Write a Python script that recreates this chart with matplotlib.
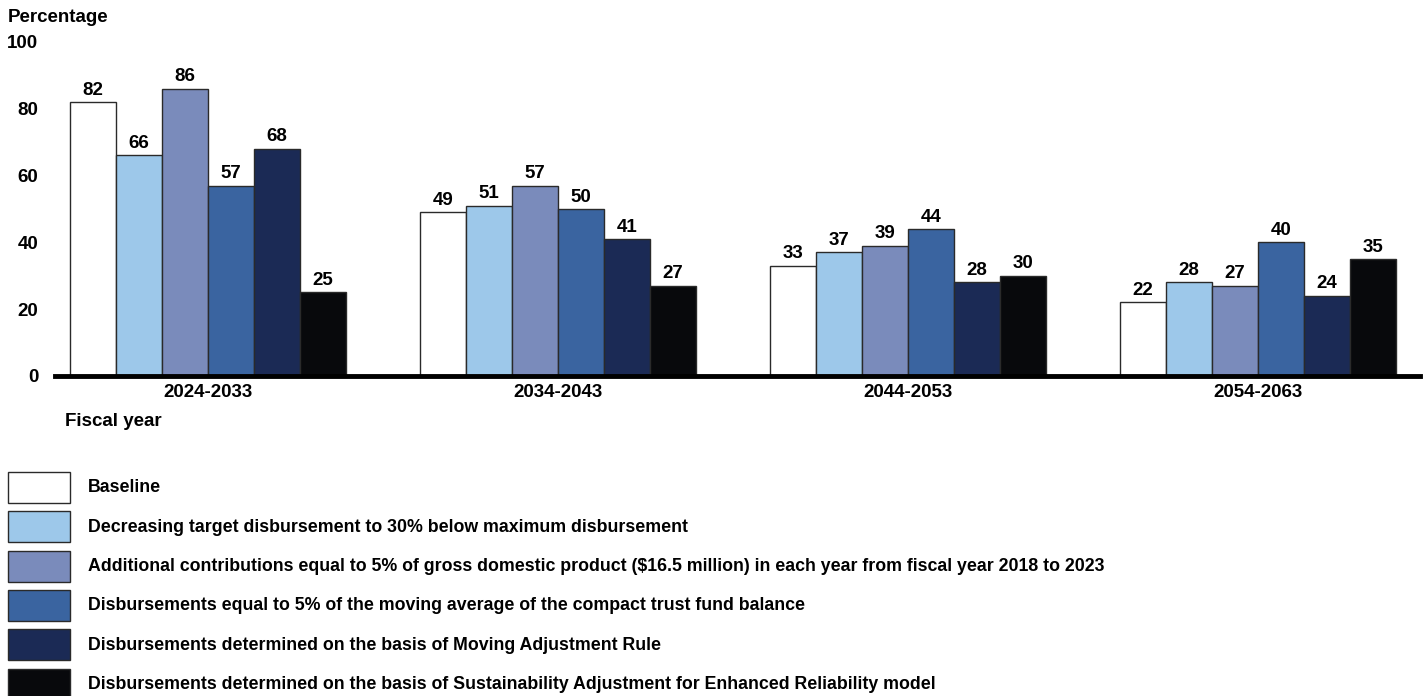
import matplotlib

matplotlib.use("Agg")
import matplotlib.pyplot as plt
import numpy as np
from matplotlib.patches import Rectangle

plt.rcParams["font.family"] = ["Liberation Sans", "DejaVu Sans"]
plt.rcParams["font.weight"] = "bold"

periods = ["2024-2033", "2034-2043", "2044-2053", "2054-2063"]
scenarios = [
    "Baseline",
    "Decreasing target disbursement to 30% below maximum disbursement",
    "Additional contributions equal to 5% of gross domestic product ($16.5 million) in each year from fiscal year 2018 to 2023",
    "Disbursements equal to 5% of the moving average of the compact trust fund balance",
    "Disbursements determined on the basis of Moving Adjustment Rule",
    "Disbursements determined on the basis of Sustainability Adjustment for Enhanced Reliability model",
]
baseline = [82, 49, 33, 22]
lower_target = [66, 51, 37, 28]
extra_contrib = [86, 57, 39, 27]
moving_avg = [57, 50, 44, 40]
mar_rule = [68, 41, 28, 24]
sefr_model = [25, 27, 30, 35]
series = [baseline, lower_target, extra_contrib, moving_avg, mar_rule, sefr_model]
colors = ["#ffffff", "#9dc8ea", "#7a8bbb", "#3a64a0", "#1b2a55", "#08090c"]
yticks = [0, 20, 40, 60, 80, 100]

fig = plt.figure(figsize=(14.26, 6.96), dpi=100)
ax = fig.add_axes([0.0386, 0.4598, 0.9572, 0.48])

x = np.arange(len(periods))
width = 0.1314
for i, (vals, col) in enumerate(zip(series, colors)):
    pos = x + (i - 2.5) * width
    ax.bar(pos, vals, width=width, color=col, edgecolor="#2a2a2a", linewidth=1.0)
    for p, v in zip(pos, vals):
        ax.text(p, v + 1.0, str(v), ha="center", va="bottom", fontsize=13.5, fontweight="bold")

ax.set_xlim(-0.437, 3.463)
ax.set_ylim(0, 100)
ax.set_yticks(yticks)
ax.set_yticklabels([str(t) for t in yticks], fontsize=13.5, fontweight="bold")
ax.set_xticks(x)
ax.set_xticklabels(periods, fontsize=13.5, fontweight="bold")
ax.tick_params(axis="both", length=0)
ax.tick_params(axis="y", pad=12)
ax.tick_params(axis="x", pad=6)
for side in ["top", "right", "left"]:
    ax.spines[side].set_visible(False)
ax.spines["bottom"].set_linewidth(3.5)
ax.spines["bottom"].set_color("black")

fig.text(8 / 1426, 1 - 17 / 696, "Percentage", fontsize=13.5, fontweight="bold", va="center", ha="left")
fig.text(65 / 1426, 1 - 422 / 696, "Fiscal year", fontsize=13.5, fontweight="bold", va="center", ha="left")

# legend swatches stacked under the chart
W, H = 1426, 696
for i, (label, col) in enumerate(zip(scenarios, colors)):
    top = 472 + i * 39.3
    fig.patches.append(
        Rectangle((8 / W, 1 - (top + 31) / H), 62 / W, 31 / H, transform=fig.transFigure,
                  facecolor=col, edgecolor="#2a2a2a", linewidth=1.0)
    )
    fig.text(88 / W, 1 - (top + 16) / H, label, fontsize=12.8, fontweight="bold", va="center", ha="left")

fig.savefig("out.png", dpi=100)
